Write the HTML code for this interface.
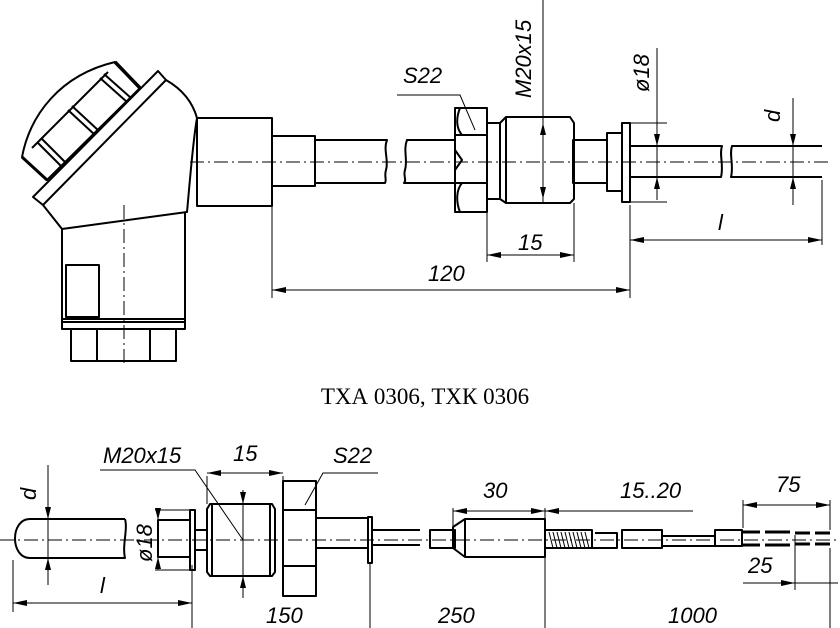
<!DOCTYPE html>
<html><head><meta charset="utf-8"><style>
html,body{margin:0;padding:0;background:#fff;}
svg{display:block;}
text{font-family:"Liberation Sans",sans-serif;font-style:italic;fill:#000;}
</style></head><body>
<svg width="840" height="628" viewBox="0 0 840 628" xmlns="http://www.w3.org/2000/svg">
<g fill="none" stroke="#000" stroke-width="2" stroke-linejoin="round">
<path d="M22,157 C30,115 60,75 115,62 L140,88 L47,180 Z"/>
<path d="M115,62 L140,88" stroke-width="3.5"/>
<path d="M22,157 L47,180" stroke-width="3"/>
<path d="M32,148 L108,72"/>
<path d="M37,142 L62,167 M41,138 L66,163 M68,110 L95,135 M72,106 L99,131 M100,78 L127,102 M104,74 L131,98"/>
<path d="M33,197 L158,71 L166,80 L43,205 Z"/>
<path d="M43,205 L62,229 L187,212 C190,180 193,140 197,118 C192,100 180,88 166,80"/>
<path d="M62,229 L62,322 M185,212 L185,322"/>
<rect x="66" y="265" width="33" height="52"/>
<rect x="62" y="319" width="123" height="10"/>
<path d="M62,322 L185,322"/>
<rect x="71" y="329" width="105" height="32"/>
<path d="M97,329 V361 M150,329 V361"/>
<rect x="197" y="118" width="75" height="88"/>
<rect x="272" y="136" width="43" height="50"/>
<path d="M315,140 H387 C383,150 389,160 386,170 C384,176 387,180 385,183 H315"/>
<path d="M455,140 H407 C403,150 408,160 405,170 C403,176 407,180 404,183 H455"/>
<rect x="455" y="108" width="32" height="104"/>
<path d="M455,135 H487 M455,183 H487"/>
<path d="M460,108 C456,118 456,128 462,135 M460,212 C456,202 456,190 462,183 M455,150 L462,160 L455,170"/>
<rect x="487" y="123" width="13" height="76"/>
<path d="M500,123 L506,117 H570 L574,123 V199 L570,203 H506 L500,199 Z"/>
<path d="M506,117 V203"/>
<rect x="573" y="140" width="34" height="43"/>
<rect x="607" y="133" width="15" height="58"/>
<rect x="622" y="123" width="8" height="79"/>
<path d="M630,146 H722 C719,155 724,165 721,177 H630"/>
<path d="M822,146 H732 C729,155 734,165 731,177 H822"/>
</g>
<g fill="none" stroke="#000" stroke-width="1">
<path d="M190,162 H830" stroke-dasharray="14,4,2,4"/>
<path d="M124,205 V365" stroke-dasharray="14,4,2,4"/>
<path d="M543,0 V203 M657,48 V200 M622,123 H667 M622,202 H667 M793,98 V205"/>
<path d="M630,205 V243 M822,180 V245 M630,240 H822"/>
<path d="M487,212 V262 M574,203 V262 M487,255 H574"/>
<path d="M272,206 V298 M630,205 V298 M272,290 H630"/>
<path d="M397,95 H460 L475,130"/>
</g>
<g fill="#000">
<path d="M543,123 l-3,12 h6 Z M543,199 l-3,-12 h6 Z"/>
<path d="M657,146 l-3,-12 h6 Z M657,177 l-3,12 h6 Z"/>
<path d="M793,146 l-3,-12 h6 Z M793,177 l-3,12 h6 Z"/>
<path d="M630,240 l14,-3 v6 Z M822,240 l-14,-3 v6 Z"/>
<path d="M487,255 l14,-3 v6 Z M574,255 l-14,-3 v6 Z"/>
<path d="M272,290 l14,-3 v6 Z M630,290 l-14,-3 v6 Z"/>
</g>
<g font-size="22">
<text x="403" y="83">S22</text>
<text transform="translate(531,98) rotate(-90)">M20x15</text>
<text transform="translate(649,92) rotate(-90)">ø18</text>
<text transform="translate(780,122) rotate(-90)">d</text>
<text x="718" y="230">l</text>
<text x="518" y="250">15</text>
<text x="428" y="281">120</text>
</g>
<text x="425" y="404" text-anchor="middle" style="font-family:'Liberation Serif',serif;font-style:normal;font-size:23px">ТХА 0306, ТХК 0306</text>
<g fill="none" stroke="#000" stroke-width="2" stroke-linejoin="round">
<path d="M125,519 H30 C10,519 10,558 30,558 H125 C122,545 128,530 125,519"/>
<rect x="158" y="520" width="32" height="37"/>
<rect x="190" y="510" width="5" height="60"/>
<rect x="195" y="530" width="12" height="20"/>
<path d="M207,509 L210,504 H272 L275,509 V572 L272,576 H210 L207,572 Z"/>
<path d="M212,504 V576 M270,504 V576"/>
<rect x="283" y="481" width="33" height="115"/>
<path d="M283,510 H316 M283,566 H316"/>
<rect x="316" y="518" width="52" height="30"/>
<rect x="368" y="517" width="4" height="46"/>
<path d="M372,530 H420 M372,545 H420"/>
<rect x="430" y="530" width="25" height="18"/>
<path d="M453,527 L465,519 H545 V557 H465 L453,548 Z"/>
<path d="M465,519 V557"/>
<rect x="545" y="530" width="47" height="18"/>
<path d="M595,533 H617 V548 H590 M622,530 H662 V548 H622 Z"/>
<path d="M662,536 H715 M662,546 H715"/>
<rect x="715" y="530" width="27" height="16"/>
<path d="M742,532 H760 M742,545 H760 M765,532 H790 M765,545 H790 M795,533 H810 M795,544 H810 M815,533 H830 M815,544 H830" stroke-width="3"/>
</g>
<g fill="none" stroke="#000" stroke-width="1">
<path d="M0,540 H840" stroke-dasharray="14,4,2,4"/>
<path d="M549,532 l4,16 M553,532 l4,16 M557,532 l4,16 M561,532 l4,16 M565,532 l4,16 M569,532 l4,16 M573,532 l4,16 M577,532 l4,16 M581,532 l4,16 M585,532 l4,16"/>
<path d="M48,465 V585 M13,560 V612 M13,603 H192 M192,565 V628"/>
<path d="M158,510 V570 M155,510 H190 M155,570 H190"/>
<path d="M207,476 V504 M283,476 V481 M207,473 H283"/>
<path d="M243,490 V598"/>
<path d="M100,470 H195 L243,540"/>
<path d="M378,473 H323 L305,505"/>
<path d="M370,563 V628 M545,557 V628 M830,548 V628"/>
<path d="M453,508 V527 M545,508 V519 M453,511 H693"/>
<path d="M743,500 V528 M830,500 V530 M743,505 H830"/>
<path d="M795,535 V590 M743,583 H838"/>
</g>
<g fill="#000">
<path d="M48,519 l-3,-12 h6 Z M48,558 l-3,12 h6 Z"/>
<path d="M13,603 l14,-3 v6 Z M192,603 l-14,-3 v6 Z"/>
<path d="M158,520 l-3,-12 h6 Z M158,557 l-3,12 h6 Z"/>
<path d="M243,504 l-3,-12 h6 Z M243,576 l-3,12 h6 Z"/>
<path d="M207,473 l14,-3 v6 Z M283,473 l-14,-3 v6 Z"/>
<path d="M453,511 l14,-3 v6 Z M545,511 l-14,-3 v6 Z M545,511 l14,-3 v6 Z"/>
<path d="M743,505 l14,-3 v6 Z M830,505 l-14,-3 v6 Z"/>
<path d="M795,583 l-14,-3 v6 Z"/>
</g>
<g font-size="22">
<text x="103" y="463">M20x15</text>
<text x="233" y="461">15</text>
<text x="333" y="463">S22</text>
<text transform="translate(36,500) rotate(-90)">d</text>
<text transform="translate(152,562) rotate(-90)">ø18</text>
<text x="100" y="593">l</text>
<text x="483" y="498">30</text>
<text x="620" y="498">15..20</text>
<text x="776" y="492">75</text>
<text x="748" y="573">25</text>
<text x="266" y="623">150</text>
<text x="438" y="623">250</text>
<text x="668" y="623">1000</text>
</g>
</svg>
</body></html>
